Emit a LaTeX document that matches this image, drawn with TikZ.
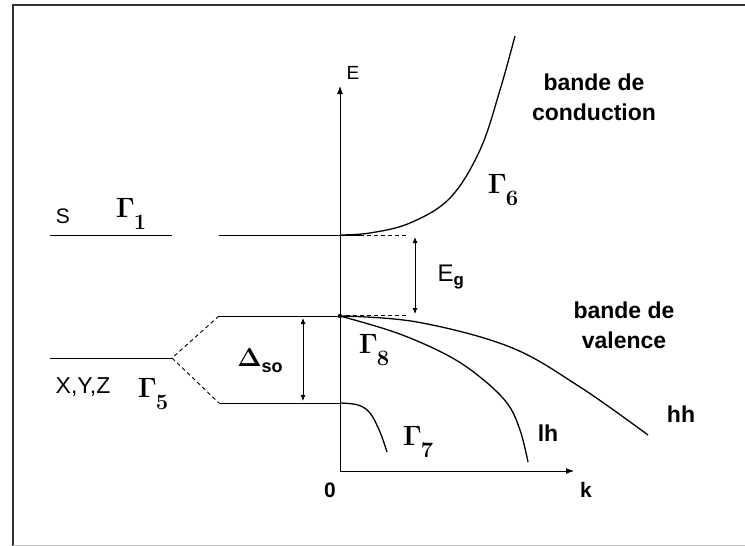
\documentclass[tikz,border=0pt]{standalone}
\usepackage{fontspec}
\setsansfont{Liberation Sans}
\usetikzlibrary{arrows.meta,calc}
\newcommand{\Gm}[1]{Γ\kern-1pt\raisebox{-0.42em}{\fontsize{22}{22}\selectfont#1}}

\begin{document}
\begin{tikzpicture}[x=1pt,y=-1pt,
  lvl/.style={line width=0.9pt},
  band/.style={line width=1.3pt,line join=round},
  lbl/.style={font=\sffamily\bfseries\fontsize{23}{30}\selectfont,align=center,inner sep=0pt},
  sym/.style={font=\sffamily\fontsize{21}{24}\selectfont,inner sep=0pt},
  gam/.style={font=\rmfamily\bfseries\fontsize{28}{32}\selectfont,inner sep=0pt},
  tip/.style={-{Latex[length=8pt,width=6pt]}},
  dtip/.style={{Latex[length=6pt,width=5pt]}-{Latex[length=6pt,width=5pt]}}]
  \useasboundingbox (0,0) rectangle (745,546);
  % frame
  \draw[line width=1.6pt,black!80] (13,546) -- (13,5) -- (745,5);
  \draw[line width=1pt,black!25] (13,545) -- (745,545);

  % axes
  \coordinate (O) at (340,471);
  \coordinate (Etop) at (340,86);
  \coordinate (kend) at (574,471);
  \draw[lvl,tip] (O) -- (Etop);
  \draw[lvl,tip] (O) -- (kend);
  \node[sym,font=\sffamily\fontsize{19}{20}\selectfont] (Elab) at (353,73) {E};
  \node[lbl,font=\sffamily\bfseries\fontsize{21}{24}\selectfont] (zero) at (330,490) {0};
  \node[lbl,font=\sffamily\bfseries\fontsize{21}{24}\selectfont] (klab) at (586,490) {k};

  % atomic levels
  \coordinate (Cb) at (340,235);
  \coordinate (V8) at (340,316);
  \coordinate (V7) at (340,403);
  \coordinate (Sl) at (172,235);
  \coordinate (Pl) at (172,358);
  \draw[lvl] (50,235) -- (Sl);
  \draw[lvl] (219,235) -- (360,235);
  \draw[lvl] (50,358) -- (Pl);
  \draw[lvl] (219,316) -- (V8);
  \draw[lvl] (219,403) -- (V7);
  \draw[lvl,dash pattern=on 4pt off 3pt] (219,316) -- (Pl) -- (219,403);
  \draw[line width=0.7pt,dash pattern=on 4pt off 3pt] (360,235) -- (406,235);
  \draw[line width=0.7pt,dash pattern=on 4pt off 3pt] (346,315) -- (406,315);
  \fill (V8) circle (2.2pt);

  % bands
  \draw[band] plot[smooth,tension=0.6] coordinates {(Cb) (370,233) (410,223) (450,198) (480,150) (500,90) (515,36)};
  \draw[band] plot[smooth,tension=0.6] coordinates {(V8) (417,322) (510,347) (580,387) (648,435)};
  \draw[band] plot[smooth,tension=0.6] coordinates {(V8) (397,333) (447,355) (480,377) (507,403) (520,430) (528,462)};
  \draw[band] plot[smooth,tension=0.6] coordinates {(V7) (358,405) (370,413) (380,432) (387,452)};

  % gaps
  \draw[lvl,dtip] (415,237) -- (415,314);
  \draw[lvl,dtip] (303,318) -- (303,401);
  \node[lbl,font=\sffamily\fontsize{24}{26}\selectfont] (Eg) at (451,277) {E\textsubscript{\bfseries g}};
  \node[inner sep=0pt] (Dso) at (260,360) {{\rmfamily\bfseries\fontsize{26}{28}\selectfont Δ}\raisebox{-6pt}{\sffamily\bfseries\fontsize{18}{20}\selectfont so}};

  % labels
  \node[sym] (Slab) at (63,216) {S};
  \node[gam] (G1) at (131,214) {\Gm{1}};
  \node[sym,font=\sffamily\fontsize{23}{26}\selectfont] (XYZ) at (83,387) {X,Y,Z};
  \node[gam] (G5) at (153,394) {\Gm{5}};
  \node[gam] (G6) at (503,190) {\Gm{6}};
  \node[gam] (G8) at (374,350) {\Gm{8}};
  \node[gam] (G7) at (418,442) {\Gm{7}};
  \node[lbl] (cond) at (594,97) {bande de\\conduction};
  \node[lbl] (val) at (624,325) {bande de\\valence};
  \node[lbl] (lh) at (548,433) {lh};
  \node[lbl] (hh) at (681,414) {hh};
\end{tikzpicture}
\end{document}
